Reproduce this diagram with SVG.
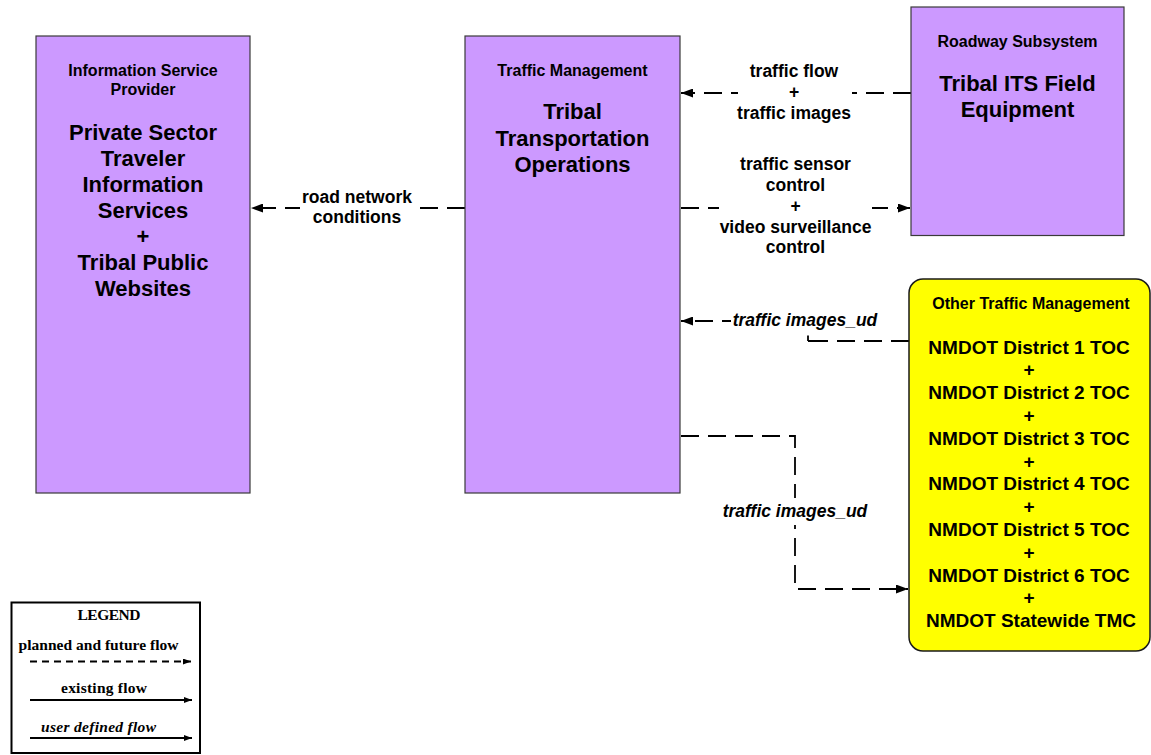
<svg xmlns="http://www.w3.org/2000/svg" width="1151" height="755" viewBox="0 0 1151 755">
<style>
.box{fill:#CC99FF;stroke:#3a3a3a;stroke-width:1.2}
.ybox{fill:#FFFF00;stroke:#1a1a1a;stroke-width:1.5}
.t{font-family:"Liberation Sans",Arial,sans-serif;font-weight:bold;text-anchor:middle;fill:#000}
.title{font-size:16px}
.main{font-size:22px}
.nm{font-size:19px}
.lbl{font-size:17.5px}
.it{font-style:italic}
.flow{fill:none;stroke:#000;stroke-width:1.8;stroke-dasharray:18 9}
.bg{fill:#fff}
.lg{font-family:"Liberation Serif","Times New Roman",serif;font-weight:bold;text-anchor:middle;fill:#000;font-size:15.5px}
</style>
<defs>
<marker id="ah" markerUnits="userSpaceOnUse" markerWidth="12" markerHeight="9" refX="12" refY="4.5" orient="auto">
<path d="M0,0 L12,4.5 L0,9 z" fill="#000"/>
</marker>
<marker id="ahs" markerUnits="userSpaceOnUse" markerWidth="8" markerHeight="6" refX="8" refY="3" orient="auto">
<path d="M0,0 L8,3 L0,6 z" fill="#000"/>
</marker>
</defs>
<rect width="1151" height="755" fill="#fff"/>

<g id="connectors">
<path class="flow" d="M465,208 L251,208" marker-end="url(#ah)"/>
<path class="flow" d="M911,93 L681,93" marker-end="url(#ah)"/>
<path class="flow" d="M681,208 L910,208" marker-end="url(#ah)"/>
<path class="flow" d="M909,341 L808,341 L808,321 L681,321" marker-end="url(#ah)"/>
<path d="M808,341 L808,335.5 M808,341 L818,341" fill="none" stroke="#000" stroke-width="1.8"/>
<path class="flow" d="M681,436 L795,436 L795,589 L908,589" marker-end="url(#ah)"/>
<g id="lbl-road">
<rect class="bg" x="300" y="187" width="114" height="42"/>
<text class="t lbl" x="357" y="203">road network</text>
<text class="t lbl" x="357" y="223">conditions</text>
</g>
<g id="lbl-flow">
<rect class="bg" x="738" y="60" width="114" height="64"/>
<text class="t lbl" x="794" y="77">traffic flow</text>
<text class="t lbl" x="794" y="98">+</text>
<text class="t lbl" x="794" y="118.5">traffic images</text>
</g>
<g id="lbl-sensor">
<rect class="bg" x="719" y="153" width="153" height="106"/>
<text class="t lbl" x="795.5" y="170">traffic sensor</text>
<text class="t lbl" x="795.5" y="190.5">control</text>
<text class="t lbl" x="795.5" y="212">+</text>
<text class="t lbl" x="795.5" y="233">video surveillance</text>
<text class="t lbl" x="795.5" y="253">control</text>
</g>
<g id="lbl-ud1">
<rect class="bg" x="731" y="308" width="150" height="27"/>
<text class="t lbl it" x="805" y="326">traffic images_ud</text>
</g>
<g id="lbl-ud2">
<rect class="bg" x="721" y="498" width="148" height="27"/>
<text class="t lbl it" x="795" y="517">traffic images_ud</text>
</g>
</g>

<g id="isp">
<rect class="box" x="36" y="36" width="214" height="457"/>
<text class="t title" x="143" y="76">Information Service</text>
<text class="t title" x="143" y="95">Provider</text>
<text class="t main" x="143" y="139.5">Private Sector</text>
<text class="t main" x="143" y="165.5">Traveler</text>
<text class="t main" x="143" y="191.5">Information</text>
<text class="t main" x="143" y="217.5">Services</text>
<text class="t main" x="143" y="243.5">+</text>
<text class="t main" x="143" y="270">Tribal Public</text>
<text class="t main" x="143" y="296">Websites</text>
</g>

<g id="tm">
<rect class="box" x="465" y="36" width="215" height="457"/>
<text class="t title" x="572.5" y="76">Traffic Management</text>
<text class="t main" x="572.5" y="119">Tribal</text>
<text class="t main" x="572.5" y="145.5">Transportation</text>
<text class="t main" x="572.5" y="171.5">Operations</text>
</g>

<g id="roadway">
<rect class="box" x="911" y="7" width="213" height="228.5"/>
<text class="t title" x="1017.5" y="47">Roadway Subsystem</text>
<text class="t main" x="1017.5" y="91">Tribal ITS Field</text>
<text class="t main" x="1017.5" y="117">Equipment</text>
</g>

<g id="othertm">
<rect class="ybox" x="909" y="279" width="241" height="372" rx="14" ry="14"/>
<text class="t title" x="1031" y="309">Other Traffic Management</text>
<text class="t nm" x="1029" y="353.5">NMDOT District 1 TOC</text>
<text class="t nm" x="1029" y="376.3">+</text>
<text class="t nm" x="1029" y="399.1">NMDOT District 2 TOC</text>
<text class="t nm" x="1029" y="421.9">+</text>
<text class="t nm" x="1029" y="444.7">NMDOT District 3 TOC</text>
<text class="t nm" x="1029" y="467.5">+</text>
<text class="t nm" x="1029" y="490.3">NMDOT District 4 TOC</text>
<text class="t nm" x="1029" y="513.1">+</text>
<text class="t nm" x="1029" y="535.9">NMDOT District 5 TOC</text>
<text class="t nm" x="1029" y="558.7">+</text>
<text class="t nm" x="1029" y="581.5">NMDOT District 6 TOC</text>
<text class="t nm" x="1029" y="604.3">+</text>
<text class="t nm" x="1031" y="627.1">NMDOT Statewide TMC</text>
</g>

<g id="legend">
<rect x="11.5" y="602.5" width="188.5" height="150.5" fill="#fff" stroke="#000" stroke-width="2"/>
<text class="lg" x="109" y="619.5" textLength="63">LEGEND</text>
<text class="lg" x="98.5" y="649.5" textLength="160">planned and future flow</text>
<line x1="30" y1="661.5" x2="191" y2="661.5" stroke="#000" stroke-width="2" stroke-dasharray="7 5" marker-end="url(#ahs)"/>
<text class="lg" x="104" y="692.5" textLength="86">existing flow</text>
<line x1="30" y1="700" x2="192" y2="700" stroke="#000" stroke-width="2" marker-end="url(#ahs)"/>
<text class="lg" x="98.5" y="731.5" font-style="italic" textLength="115">user defined flow</text>
<line x1="30" y1="738" x2="192" y2="738" stroke="#000" stroke-width="2" marker-end="url(#ahs)"/>
</g>
</svg>
